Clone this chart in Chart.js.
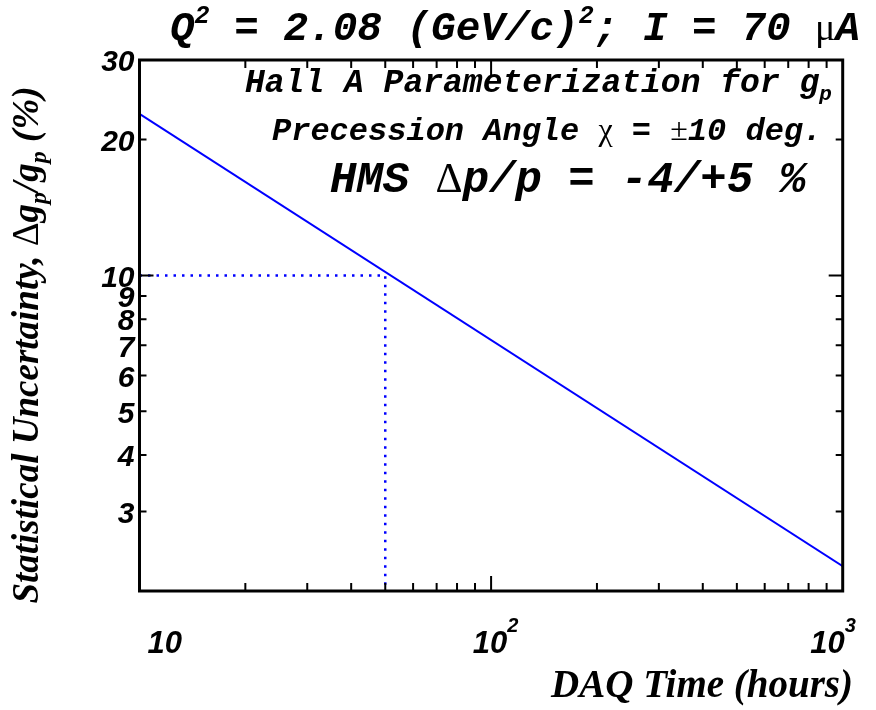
<!DOCTYPE html>
<html>
<head>
<meta charset="utf-8">
<script src="https://cdn.jsdelivr.net/npm/chart.js@4/dist/chart.umd.min.js"></script>
<style>
  html, body { margin: 0; padding: 0; background: #fff; }
  #wrap { width: 876px; height: 710px; }
</style>
</head>
<body>
<div id="wrap"><canvas id="c" width="876" height="710"></canvas></div>
<script>
// DAQ time (hours) vs statistical uncertainty (%)
const daqHours = [10, 1000];
const uncertainty = [22.8, 2.27];

// dotted guide at 50 h / 10 %
const guideHours = [10, 50, 50];
const guideUnc = [10, 10, 2];

// axis ranges and tick marks
const xRange = [10, 1000];
const yRange = [2, 30];
const xMajor = [100];
const xMinor = [20, 30, 40, 50, 60, 70, 80, 90, 200, 300, 400, 500, 600, 700, 800, 900];
const yMajor = [10];
const yMinor = [3, 4, 5, 6, 7, 8, 9, 20];
const yTickLabels = ['30', '20', '10', '9', '8', '7', '6', '5', '4', '3'];
const yTickValues = [30, 20, 10, 9, 8, 7, 6, 5, 4, 3];

const BLUE = '#0000ff';
const MONO = "'Liberation Mono', 'DejaVu Sans Mono', monospace";
const SERIF = "'Liberation Serif', 'DejaVu Serif', serif";
const SANS = "'Liberation Sans', Arial, sans-serif";

// draw a run of text pieces with their own fonts / offsets
function rich(ctx, parts, x, y, align) {
  let total = 0;
  parts.forEach(p => { ctx.font = p.f; p.w = ctx.measureText(p.t).width; total += p.w; });
  let cx = x;
  if (align === 'center') cx = x - total / 2;
  else if (align === 'right') cx = x - total;
  ctx.textAlign = 'left';
  ctx.textBaseline = 'alphabetic';
  parts.forEach(p => {
    ctx.font = p.f;
    ctx.fillText(p.t, cx, y + (p.dy || 0));
    cx += p.w;
  });
}

const framePlugin = {
  id: 'frame',
  afterDatasetsDraw(chart) {
    const { ctx, chartArea: a, scales } = chart;
    const xs = scales.x, ys = scales.y;
    ctx.save();
    ctx.strokeStyle = '#000';

    // tick marks, drawn inward on all four sides
    ctx.lineWidth = 2;
    const xt = (v, len) => {
      const px = xs.getPixelForValue(v);
      ctx.beginPath();
      ctx.moveTo(px, a.bottom); ctx.lineTo(px, a.bottom - len);
      ctx.moveTo(px, a.top); ctx.lineTo(px, a.top + len);
      ctx.stroke();
    };
    const yt = (v, len) => {
      const py = ys.getPixelForValue(v);
      ctx.beginPath();
      ctx.moveTo(a.left, py); ctx.lineTo(a.left + len, py);
      ctx.moveTo(a.right, py); ctx.lineTo(a.right - len, py);
      ctx.stroke();
    };
    xMinor.forEach(v => xt(v, 8));
    xMajor.forEach(v => xt(v, 15));
    yMinor.forEach(v => yt(v, 7));
    yMajor.forEach(v => yt(v, 14));

    // frame
    ctx.lineWidth = 3;
    ctx.strokeRect(a.left, a.top, a.right - a.left, a.bottom - a.top);

    ctx.fillStyle = '#000';

    // y tick labels
    ctx.font = 'bold italic 30px ' + SANS;
    ctx.textAlign = 'right';
    ctx.textBaseline = 'middle';
    yTickValues.forEach((v, i) => {
      ctx.fillText(yTickLabels[i], a.left - 5, ys.getPixelForValue(v) + 3);
    });

    // x tick labels (powers of ten)
    const big = 'bold italic 31px ' + SANS;
    const sup = 'bold italic 20px ' + SANS;
    const baseY = 653;
    ctx.font = big;
    ctx.textBaseline = 'alphabetic';
    ctx.textAlign = 'left';
    ctx.fillText('10', xs.getPixelForValue(10) + 8, baseY);
    let w10 = ctx.measureText('10').width;
    let p2 = xs.getPixelForValue(100);
    rich(ctx, [{ t: '10', f: big }, { t: '2', f: sup, dy: -21 }], p2 - w10 / 2 - 1, baseY, 'left');
    let p3 = xs.getPixelForValue(1000);
    rich(ctx, [{ t: '10', f: big }, { t: '3', f: sup, dy: -21 }], p3 + 2 - w10, baseY, 'left');

    // title
    const t41 = 'bold italic 41px ' + MONO;
    const t24 = 'bold italic 25px ' + MONO;
    rich(ctx, [
      { t: 'Q', f: t41 }, { t: '2', f: t24, dy: -17 },
      { t: ' = 2.08 (GeV/c)', f: t41 }, { t: '2', f: t24, dy: -17 },
      { t: '; I = 70 ', f: t41 }, { t: 'μ', f: '38px ' + SERIF }, { t: 'A', f: t41 }
    ], 170, 40, 'left');

    // annotations inside the frame
    const m33 = 'bold italic 33px ' + MONO;
    const m32 = 'bold italic 32px ' + MONO;
    rich(ctx, [
      { t: 'Hall A Parameterization for g', f: m33 },
      { t: 'p', f: 'bold italic 21px ' + MONO, dy: 8 }
    ], 245, 92, 'left');
    rich(ctx, [
      { t: 'Precession Angle ', f: m32 }, { t: 'χ', f: '32px ' + SERIF },
      { t: ' = ', f: m32 }, { t: '±', f: '32px ' + SERIF }, { t: '10 deg.', f: m32 }
    ], 272, 140, 'left');
    const m44 = 'bold italic 44px ' + MONO;
    rich(ctx, [
      { t: 'HMS ', f: m44 }, { t: 'Δ', f: '42px ' + SERIF }, { t: 'p/p = -4/+5 %', f: m44 }
    ], 330, 192, 'left');

    // axis titles
    const s38 = 'bold italic 39px ' + SERIF;
    rich(ctx, [{ t: 'DAQ Time (hours)', f: s38 }], 853, 697, 'right');

    const s36 = 'bold italic 37px ' + SERIF;
    const s24 = 'bold italic 24px ' + SERIF;
    ctx.save();
    ctx.translate(38, 345);
    ctx.rotate(-Math.PI / 2);
    rich(ctx, [
      { t: 'Statistical Uncertainty, ', f: s36 },
      { t: 'Δ', f: '37px ' + SERIF },
      { t: 'g', f: s36 }, { t: 'p', f: s24, dy: 8 },
      { t: '/g', f: s36 }, { t: 'p', f: s24, dy: 8 },
      { t: ' (%)', f: s36 }
    ], 0, 0, 'center');
    ctx.restore();

    ctx.restore();
  }
};

new Chart(document.getElementById('c'), {
  type: 'scatter',
  data: {
    datasets: [
      {
        data: daqHours.map((h, i) => ({ x: h, y: uncertainty[i] })),
        showLine: true, borderColor: BLUE, borderWidth: 2,
        pointRadius: 0, fill: false
      },
      {
        data: guideHours.map((h, i) => ({ x: h, y: guideUnc[i] })),
        showLine: true, borderColor: BLUE, borderWidth: 2.5,
        borderDash: [2.5, 6], pointRadius: 0, fill: false
      }
    ]
  },
  options: {
    responsive: false,
    animation: false,
    devicePixelRatio: 1,
    layout: { padding: { left: 139.5, right: 33.3, top: 60, bottom: 119 } },
    plugins: { legend: { display: false }, tooltip: { enabled: false }, title: { display: false } },
    scales: {
      x: { type: 'logarithmic', min: xRange[0], max: xRange[1], display: false },
      y: { type: 'logarithmic', min: yRange[0], max: yRange[1], display: false }
    }
  },
  plugins: [framePlugin]
});
</script>
</body>
</html>
